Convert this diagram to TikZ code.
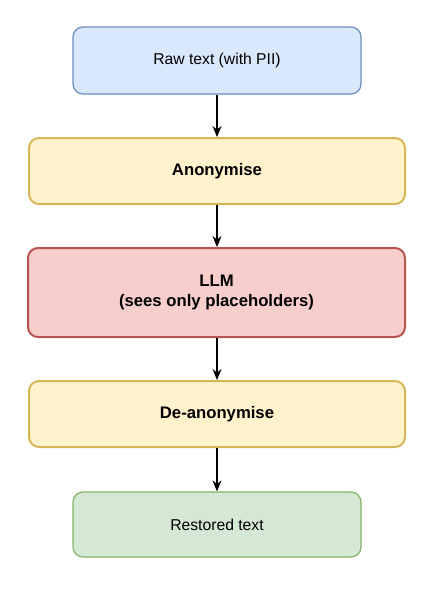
\documentclass[tikz,border=0pt]{standalone}
\usepackage{fontspec}
\setmainfont{Liberation Sans}
\usetikzlibrary{arrows.meta}
\definecolor{bluefill}{HTML}{DAE8FC}
\definecolor{bluedraw}{HTML}{6C8EBF}
\definecolor{yelfill}{HTML}{FFF2CC}
\definecolor{yeldraw}{HTML}{D6B656}
\definecolor{redfill}{HTML}{F8CECC}
\definecolor{reddraw}{HTML}{B85450}
\definecolor{grnfill}{HTML}{D5E8D4}
\definecolor{grndraw}{HTML}{82B366}
\tikzset{
  box/.style={rectangle, rounded corners=10pt, align=center, inner sep=0pt,
    font=\fontsize{15.7}{20}\selectfont},
  boldbox/.style={box, line width=2pt, font=\fontsize{16.7}{20.5}\selectfont\bfseries},
  bluebox/.style={box, fill=bluefill, draw=bluedraw, line width=1.2pt},
  yelbox/.style={boldbox, fill=yelfill, draw=yeldraw},
  redbox/.style={boldbox, fill=redfill, draw=reddraw},
  grnbox/.style={box, fill=grnfill, draw=grndraw, line width=1.2pt},
  flow/.style={-{Stealth[length=11pt,width=9pt]}, line width=1.2pt, black}
}
\begin{document}
\begin{tikzpicture}[x=1pt,y=-1pt]
\useasboundingbox (0,0) rectangle (438,600);
\node[bluebox, minimum width=288pt, minimum height=67pt] (raw) at (217,60.5) {Raw text (with PII)};
\node[yelbox, minimum width=376pt, minimum height=66pt] (anon) at (217,171) {Anonymise};
\node[redbox, minimum width=377pt, minimum height=89pt] (llm) at (216.5,292.5) {LLM\\(sees only placeholders)};
\node[yelbox, minimum width=376pt, minimum height=66pt] (deanon) at (217,414) {De-anonymise};
\node[grnbox, minimum width=288pt, minimum height=65pt] (rest) at (217,524.5) {Restored text};
\draw[flow] (raw.south) -- (anon.north);
\draw[flow] (anon.south) -- (llm.north -| anon.south);
\draw[flow] (llm.south -| anon.south) -- (deanon.north);
\draw[flow] (deanon.south) -- (rest.north);
\end{tikzpicture}
\end{document}
